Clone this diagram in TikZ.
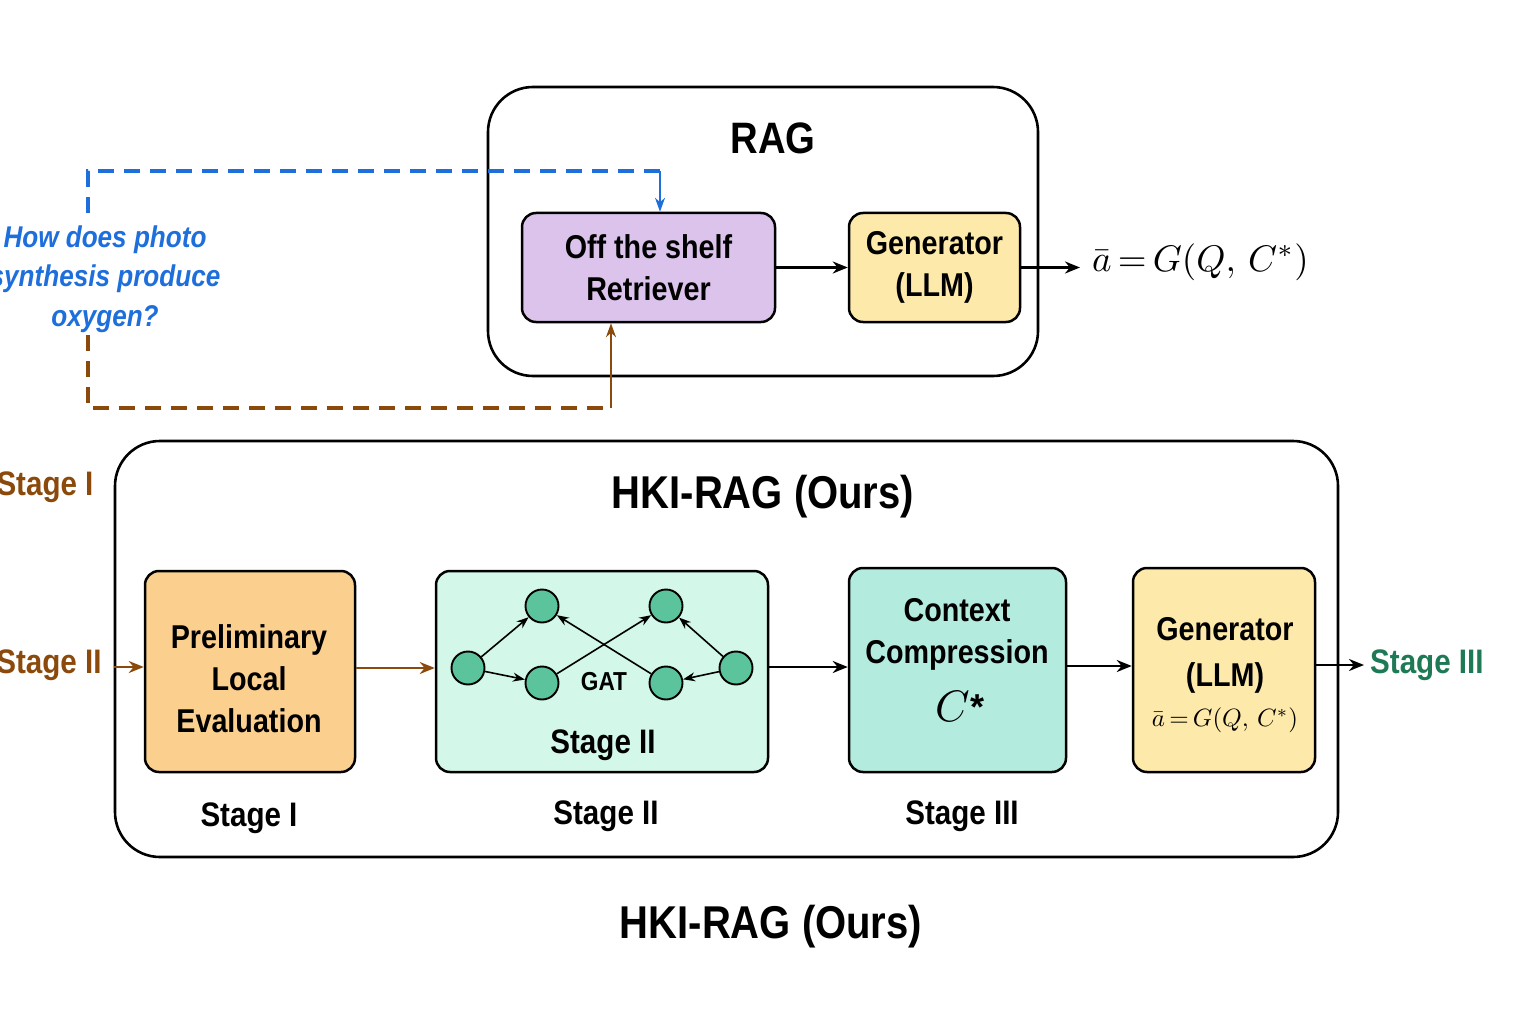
\documentclass[tikz,border=0pt]{standalone}
\usepackage{graphicx}
\usepackage{fontspec}
\setmainfont{Liberation Sans}
\newfontfamily\cond[FakeStretch=0.87]{Liberation Sans}
\usetikzlibrary{arrows.meta}
\definecolor{lav}{HTML}{DCC3EC}
\definecolor{yel}{HTML}{FDE9A9}
\definecolor{org}{HTML}{FBD08F}
\definecolor{mint}{HTML}{D3F8EA}
\definecolor{teal}{HTML}{B3ECDF}
\definecolor{ngreen}{HTML}{5CC49C}
\definecolor{qblue}{HTML}{1E6FDB}
\definecolor{brn}{HTML}{8B4A0B}
\definecolor{sgreen}{HTML}{1E7A55}
\newcommand{\boxfont}{\cond\bfseries\fontsize{33}{42}\selectfont}
\newcommand{\stfont}{\cond\bfseries\fontsize{34}{40}\selectfont}
\newcommand{\ttlfont}{\cond\bfseries\fontsize{46}{50}\selectfont}
\newcommand{\myformula}{$\bar{a}\,{=}\,G(Q,\, C^{*})$}
\begin{document}
\begin{tikzpicture}[x=1pt,y=-1pt,
  container/.style={draw, line width=2.6pt, rounded corners=45pt, inner sep=0pt},
  blk/.style={draw, line width=2.5pt, rounded corners=14pt, inner sep=0pt, align=center, font=\boxfont},
  arr/.style={-{Stealth[length=15pt,width=12pt]}, line width=2.4pt},
  garr/.style={-{Stealth[length=12pt,width=9pt]}, line width=1.6pt},
  gnode/.style={circle, draw, line width=1.9pt, fill=ngreen, minimum size=33pt, inner sep=0pt},
  bluedash/.style={draw=qblue, line width=3.2pt, dash pattern=on 16pt off 10pt},
  browndash/.style={draw=brn, line width=3.2pt, dash pattern=on 16pt off 10pt},
  lbl/.style={font=\stfont, inner sep=0pt}]
\useasboundingbox (0,0) rectangle (1536,1024);
\fill[white] (0,0) rectangle (1536,1024);

% RAG container
\node[container, minimum width=550pt, minimum height=289pt] (rag) at (763,231.5) {};
\node[font=\cond\bfseries\fontsize{44}{48}\selectfont] (ragt) at (773,138) {RAG};
\node[blk, fill=lav, minimum width=253pt, minimum height=109pt] (ret) at (648.5,267.5) {Off the shelf\\Retriever};
\node[blk, fill=yel, minimum width=171pt, minimum height=109pt] (gen1) at (934.5,267.5) {Generator\\(LLM)};
\node[anchor=west, inner sep=0pt] (form1) at (1092,262) {\scalebox{3.7}{\normalsize\myformula}};
\draw[arr] (ret.east) -- (gen1.west);
\draw[arr] (gen1.east) -- ([xshift=-12pt]form1.west |- gen1.east);

% question
\node[align=center, text=qblue, font=\cond\bfseries\itshape\fontsize{30}{39.5}\selectfont] (q) at (105,279) {How does photo\\synthesis produce\\oxygen?};
\coordinate (qtop) at (88,213);
\coordinate (qbot) at (88,335);
\coordinate (bc) at (660,171);
\coordinate (brc) at (611,408);
\draw[bluedash] (qtop) |- (bc);
\draw[qblue, -{Stealth[length=14pt,width=10pt]}, line width=2pt] (bc) -- (bc |- ret.north);
\draw[browndash] (qbot) |- (brc);
\draw[brn, -{Stealth[length=14pt,width=10pt]}, line width=2pt] (brc) -- (brc |- ret.south);

% HKI container
\node[container, minimum width=1223pt, minimum height=416pt] (hki) at (726.5,649) {};
\node[font=\ttlfont] (hkit) at (763,497) {HKI-RAG (Ours)};

\node[lbl, text=brn] (s1l) at (45,487) {Stage I};
\node[lbl, text=brn] (s2l) at (49,665) {Stage II};

\node[blk, fill=org, minimum width=210pt, minimum height=201pt] (pre) at (250,671.5) {};
\node[align=center, font=\boxfont] (pret) at (249,679) {Preliminary\\Local\\Evaluation};
\node[blk, fill=mint, minimum width=332pt, minimum height=201pt] (gat) at (602,671.5) {};
\node[blk, fill=teal, minimum width=217pt, minimum height=204pt] (ctx) at (957.5,670) {};
\node[blk, fill=yel, minimum width=182pt, minimum height=204pt] (gen2) at (1224,670) {};

\coordinate (s2a) at (hki.west |- 0,667);
\draw[brn, -{Stealth[length=15pt,width=12pt]}, line width=2.4pt] (s2a) -- (pre.west |- s2a);
\draw[brn, -{Stealth[length=15pt,width=12pt]}, line width=2.4pt] (pre.east |- 0,668) -- (gat.west |- 0,668);
\draw[arr] (gat.east |- 0,667) -- (ctx.west |- 0,667);
\draw[arr] (ctx.east |- 0,666) -- (gen2.west |- 0,666);
\node[lbl, text=sgreen, anchor=west] (s3l) at (1370,665) {Stage III};
\draw[arr] (gen2.east |- 0,665) -- ([xshift=-6pt]s3l.west |- 0,665);

% GAT graph
\node[gnode] (n1) at (468,668) {};
\node[gnode] (n2) at (542,606) {};
\node[gnode] (n3) at (542,683) {};
\node[gnode] (n4) at (666,606) {};
\node[gnode] (n5) at (666,683) {};
\node[gnode] (n6) at (736,668) {};
\draw[garr] (n1) -- (n2);
\draw[garr] (n1) -- (n3);
\draw[garr] (n3) -- (n4);
\draw[garr] (n5) -- (n2);
\draw[garr] (n6) -- (n4);
\draw[garr] (n6) -- (n5);
\node[font=\cond\bfseries\fontsize{26}{30}\selectfont] (gatl) at (604,682) {GAT};
\node[lbl] (gats) at (603,745) {Stage II};

% context compression text
\node[align=center, font=\boxfont] (ctxt) at (957,634) {Context\\Compression};
\node[inner sep=0pt] (cstar) at (960,706) {\scalebox{4.4}{\normalsize$C$}\hspace{1pt}\raisebox{2pt}{\bfseries\fontsize{36}{40}\selectfont *}};

% generator 2 text
\node[align=center, font=\cond\bfseries\fontsize{33}{46}\selectfont] (gen2t) at (1225,655) {Generator\\(LLM)};
\node[inner sep=0pt] (form2) at (1225,720) {\scalebox{2.5}{\normalsize\myformula}};

% stage labels under
\node[lbl] (st1) at (249,818) {Stage I};
\node[lbl] (st2) at (606,816) {Stage II};
\node[lbl] (st3) at (962,816) {Stage III};

\node[font=\ttlfont] (bott) at (771,927) {HKI-RAG (Ours)};
\end{tikzpicture}
\end{document}
